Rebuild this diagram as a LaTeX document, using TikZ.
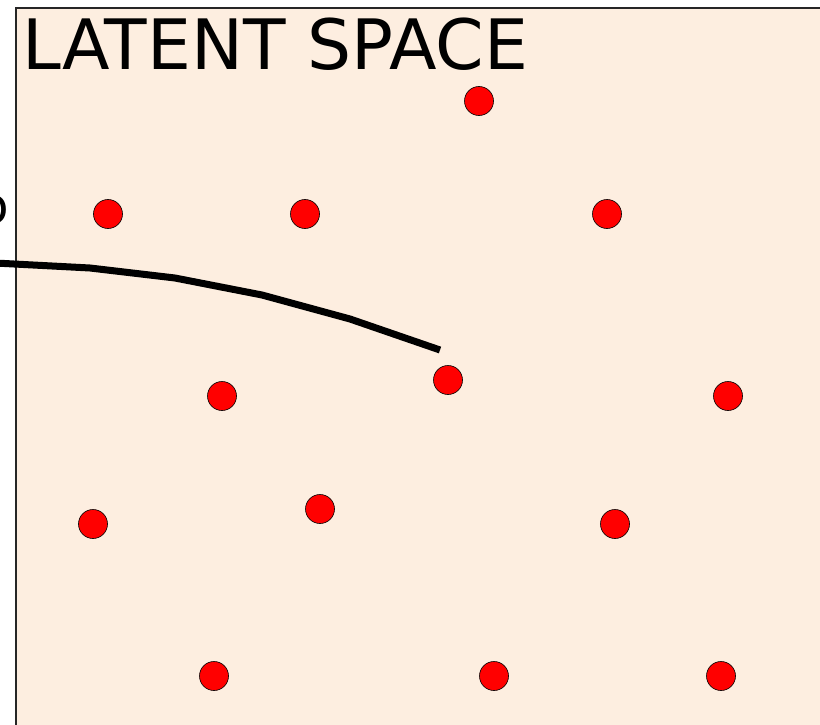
\documentclass[tikz,border=0pt]{standalone}
\usepackage{fontspec}
\setmainfont{DejaVu Sans}
\definecolor{peach}{RGB}{253,238,224}
\begin{document}
\begin{tikzpicture}[x=1pt,y=-1pt,
  dot/.style={circle,draw=black,line width=0.6pt,fill=red,minimum size=29pt,inner sep=0pt},
  trail/.style={line width=7pt,black,line join=miter}]
\useasboundingbox (0,0) rectangle (820,725);
\draw[fill=peach,draw=black!85,line width=1.2pt] (16,8) rectangle (830,735);
\node[anchor=base west,inner sep=0pt,font=\fontsize{69.5}{69.5}\selectfont] (title) at (22,70) {LATENT SPACE};
\node[anchor=east,inner sep=0pt,font=\fontsize{50}{50}\selectfont] (frag) at (9,210) {o};
\foreach \n/\x/\y in {a/479/101,b/108/214,c/305/214,d/607/214,e/222/396,f/448/380,g/728/396,h/93/524,i/320/509,j/615/524,k/214/676,l/494/676,m/721/676}
  \node[dot] (\n) at (\x,\y) {};
\coordinate (p0) at (-5,263);
\coordinate (p1) at (90,268);
\coordinate (p2) at (175,278);
\coordinate (p3) at (262,295);
\coordinate (p4) at (350,319);
\coordinate (p5) at (440,350);
\draw[trail] (p0) -- (p1) -- (p2) -- (p3) -- (p4) -- (p5);
\end{tikzpicture}
\end{document}
